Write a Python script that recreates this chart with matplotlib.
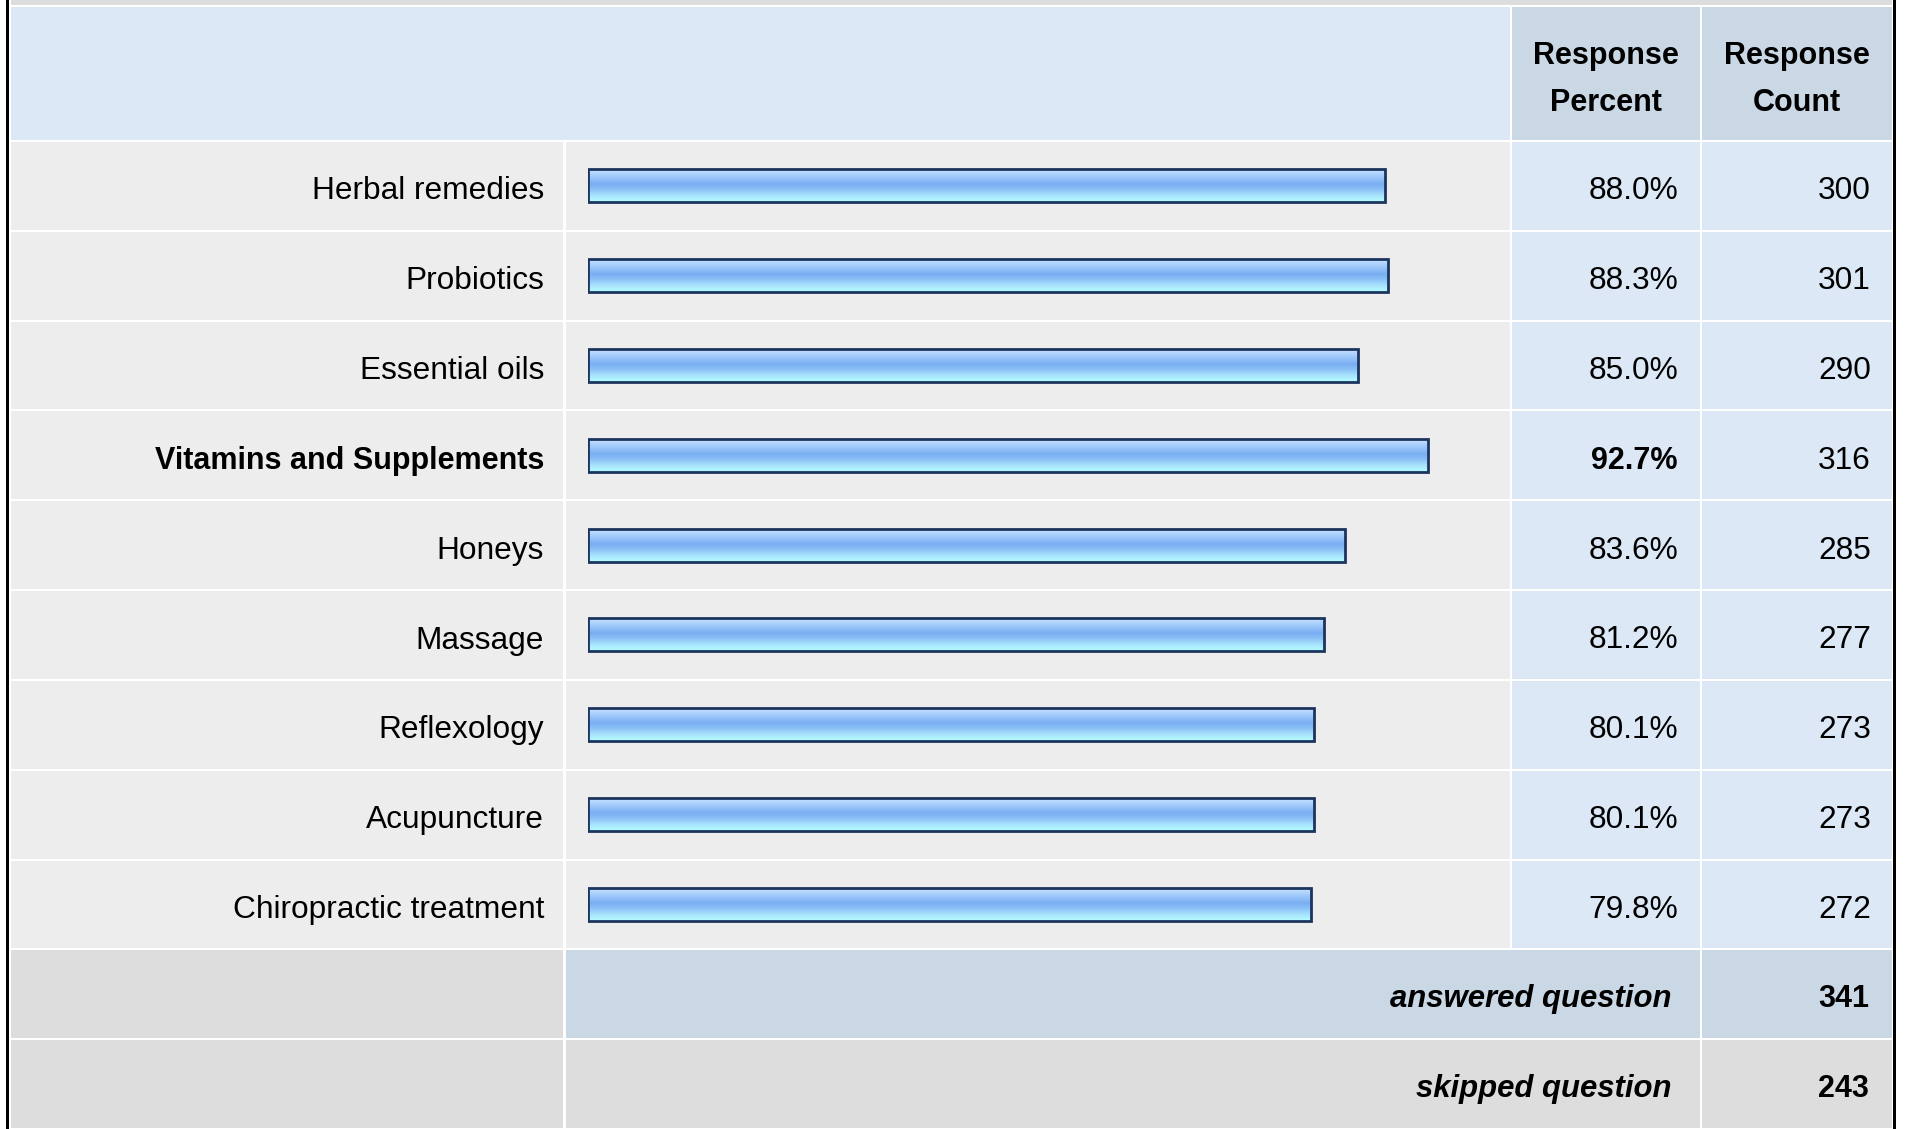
import numpy as np
import matplotlib
matplotlib.use("Agg")
import matplotlib.pyplot as plt
from matplotlib.patches import Rectangle
from matplotlib.colors import LinearSegmentedColormap

categories = ["Herbal remedies", "Probiotics", "Essential oils", "Vitamins and Supplements",
              "Honeys", "Massage", "Reflexology", "Acupuncture", "Chiropractic treatment"]
percents = [88.0, 88.3, 85.0, 92.7, 83.6, 81.2, 80.1, 80.1, 79.8]
counts = [300, 301, 290, 316, 285, 277, 273, 273, 272]
bold_row = 3
answered = 341
skipped = 243

W, H = 1907, 1129
FS = 22.8      # regular text
FSB = 22.0     # bold text
FSBI = 22.4    # bold italic
plt.rcParams['font.family'] = ['Liberation Sans', 'DejaVu Sans']

fig = plt.figure(figsize=(W / 100, H / 100), dpi=100)
ax = fig.add_axes([0, 0, 1, 1])
ax.set_xlim(0, W)
ax.set_ylim(H, 0)
ax.axis("off")

LIGHT_BLUE = "#dce8f5"
GREY_BLUE = "#cad8e6"
GREY = "#ededed"
DARK_GREY = "#dddddd"

# column edges (pixels)
x_lab = (11, 563)
x_bar = (566, 1510)
x_pct = (1512, 1700)
x_cnt = (1702, 1892)
head_top, head_bot = 7, 141
row_h = (H - head_bot) / 11


def cell(x, y0, y1, color):
    ax.add_patch(Rectangle((x[0], y0), x[1] - x[0], y1 - y0, facecolor=color, edgecolor="none"))


# top strip and borders
cell((11, 1892), 0, 5, DARK_GREY)
ax.add_patch(Rectangle((6, 0), 2.5, H, facecolor="black", edgecolor="none"))
ax.add_patch(Rectangle((1893, 0), 2.5, H, facecolor="black", edgecolor="none"))

# header
cell((x_lab[0], x_bar[1]), head_top, head_bot - 1, LIGHT_BLUE)
cell(x_pct, head_top, head_bot - 1, GREY_BLUE)
cell(x_cnt, head_top, head_bot - 1, GREY_BLUE)
pc = (x_pct[0] + x_pct[1]) / 2
cc = (x_cnt[0] + x_cnt[1]) / 2
for xc in (pc, cc):
    ax.text(xc, 64, "Response", ha="center", va="baseline", fontsize=FSB, fontweight="bold")
ax.text(pc, 111, "Percent", ha="center", va="baseline", fontsize=FSB, fontweight="bold")
ax.text(cc, 111, "Count", ha="center", va="baseline", fontsize=FSB, fontweight="bold")

# data rows
for i, (cat, p, n) in enumerate(zip(categories, percents, counts)):
    y0 = head_bot + i * row_h + 1
    y1 = head_bot + (i + 1) * row_h - 1
    cell(x_lab, y0, y1, GREY)
    cell(x_bar, y0, y1, GREY)
    cell(x_pct, y0, y1, LIGHT_BLUE)
    cell(x_cnt, y0, y1, LIGHT_BLUE)
    yb = (y0 + y1) / 2 + 13.5
    if i == bold_row:
        w, fs = "bold", FSB
    else:
        w, fs = "normal", FS
    ax.text(544, yb, cat, ha="right", va="baseline", fontsize=fs, fontweight=w)
    ax.text(1678, yb, f"{p:.1f}%", ha="right", va="baseline", fontsize=fs, fontweight=w)
    ax.text(1871, yb, str(n), ha="right", va="baseline", fontsize=FS)

# summary rows
for k, (label, val, mid_col) in enumerate([("answered question", answered, GREY_BLUE),
                                           ("skipped question", skipped, DARK_GREY)]):
    i = 9 + k
    y0 = head_bot + i * row_h + 1
    y1 = min(head_bot + (i + 1) * row_h - 1, H)
    cell(x_lab, y0, y1, DARK_GREY)
    cell((x_bar[0], x_pct[1]), y0, y1, mid_col)
    cell(x_cnt, y0, y1, mid_col)
    yb = (y0 + y1) / 2 + 13
    ax.text(1672, yb, label, ha="right", va="baseline", fontsize=FSBI,
            fontweight="bold", fontstyle="italic")
    ax.text(1869, yb, str(val), ha="right", va="baseline", fontsize=FSB, fontweight="bold")

# bar axes: 0..100 % mapped to pixels 588..1494
bx0, bx1 = 588, 1494
by0, by1 = head_bot, head_bot + 9 * row_h
bax = fig.add_axes([bx0 / W, 1 - by1 / H, (bx1 - bx0) / W, (by1 - by0) / H])
bax.set_xlim(0, 100)
bax.set_ylim(8.5, -0.5)
bax.axis("off")
bax.patch.set_alpha(0)

grad = LinearSegmentedColormap.from_list("bar", [
    (0.0, "#c8e2ff"), (0.2, "#a4ccfc"), (0.45, "#7aaef2"),
    (0.6, "#88bef6"), (0.8, "#a8e2fc"), (1.0, "#b4feff")])
gimg = np.linspace(0, 1, 64).reshape(-1, 1)

bh = 33 / row_h
ypos = np.arange(len(categories))
bars = bax.barh(ypos, percents, height=bh, color="none", edgecolor="none")
for y, p, b in zip(ypos, percents, bars):
    im = bax.imshow(gimg, cmap=grad, aspect="auto", origin="upper",
                    extent=(0, p, y + bh / 2, y - bh / 2), interpolation="bilinear")
    im.set_clip_path(b)
    bax.add_patch(Rectangle((0, y - bh / 2), p, bh, facecolor="none",
                            edgecolor="#1c355e", linewidth=2.0))
bax.set_xlim(0, 100)
bax.set_ylim(8.5, -0.5)

fig.savefig("out.png", dpi=100)
